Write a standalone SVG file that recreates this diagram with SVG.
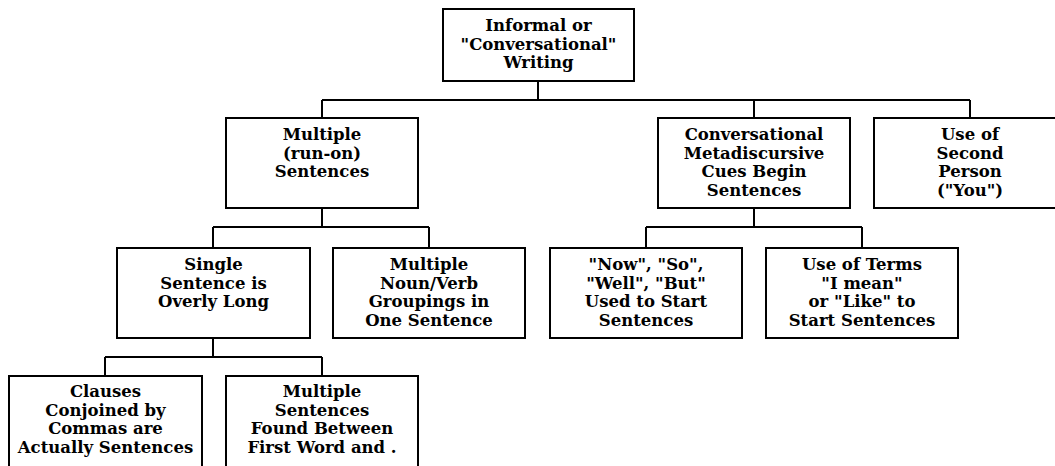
<svg xmlns="http://www.w3.org/2000/svg" width="1055" height="466" viewBox="0 0 1055 466">
  <style>
    .box { fill: #ffffff; stroke: #000000; stroke-width: 2; }
    .wire { fill: none; stroke: #000000; stroke-width: 2; }
    text { font-family: "DejaVu Serif", "Liberation Serif", serif; font-weight: bold; font-size: 16.5px; fill: #000000; text-anchor: middle; }
  </style>
  <rect width="1055" height="466" fill="#ffffff"/>

  <!-- connectors -->
  <g id="connectors" class="wire">
    <path d="M538 81 V100 M322 100 H970 M322 100 V118 M754 100 V118 M970 100 V118"/>
    <path d="M322 208 V227 M213 227 H429 M213 227 V248 M429 227 V248"/>
    <path d="M754 208 V227 M646 227 H862 M646 227 V248 M862 227 V248"/>
    <path d="M213 338 V357 M105 357 H322 M105 357 V376 M322 357 V376"/>
  </g>

  <g id="informal">
    <rect class="box" x="443" y="9" width="191" height="72"/>
    <text x="538.5"><tspan x="538.5" y="31">Informal or</tspan><tspan x="538.5" y="49.5">"Conversational"</tspan><tspan x="538.5" y="68">Writing</tspan></text>
  </g>

  <g id="multiple-runon">
    <rect class="box" x="226" y="118" width="192" height="90"/>
    <text><tspan x="322" y="140">Multiple</tspan><tspan x="322" y="158.5">(run-on)</tspan><tspan x="322" y="177">Sentences</tspan></text>
  </g>

  <g id="metadiscursive">
    <rect class="box" x="658" y="118" width="192" height="90"/>
    <text><tspan x="754" y="140">Conversational</tspan><tspan x="754" y="158.5">Metadiscursive</tspan><tspan x="754" y="177">Cues Begin</tspan><tspan x="754" y="195.5">Sentences</tspan></text>
  </g>

  <g id="second-person">
    <rect class="box" x="874" y="118" width="192" height="90"/>
    <text><tspan x="970" y="140">Use of</tspan><tspan x="970" y="158.5">Second</tspan><tspan x="970" y="177">Person</tspan><tspan x="970" y="195.5">("You")</tspan></text>
  </g>

  <g id="overly-long">
    <rect class="box" x="117" y="248" width="193" height="90"/>
    <text><tspan x="213.5" y="270">Single</tspan><tspan x="213.5" y="288.5">Sentence is</tspan><tspan x="213.5" y="307">Overly Long</tspan></text>
  </g>

  <g id="noun-verb">
    <rect class="box" x="333" y="248" width="192" height="90"/>
    <text><tspan x="429" y="270">Multiple</tspan><tspan x="429" y="288.5">Noun/Verb</tspan><tspan x="429" y="307">Groupings in</tspan><tspan x="429" y="325.5">One Sentence</tspan></text>
  </g>

  <g id="now-so-well-but">
    <rect class="box" x="550" y="248" width="192" height="90"/>
    <text><tspan x="646" y="270">"Now", "So",</tspan><tspan x="646" y="288.5">"Well", "But"</tspan><tspan x="646" y="307">Used to Start</tspan><tspan x="646" y="325.5">Sentences</tspan></text>
  </g>

  <g id="i-mean-like">
    <rect class="box" x="766" y="248" width="192" height="90"/>
    <text><tspan x="862" y="270">Use of Terms</tspan><tspan x="862" y="288.5">"I mean"</tspan><tspan x="862" y="307">or "Like" to</tspan><tspan x="862" y="325.5">Start Sentences</tspan></text>
  </g>

  <g id="comma-clauses">
    <rect class="box" x="9" y="376" width="193" height="91"/>
    <text><tspan x="105.5" y="397">Clauses</tspan><tspan x="105.5" y="415.5">Conjoined by</tspan><tspan x="105.5" y="434">Commas are</tspan><tspan x="105.5" y="452.5">Actually Sentences</tspan></text>
  </g>

  <g id="between-word-and-period">
    <rect class="box" x="226" y="376" width="192" height="91"/>
    <text><tspan x="322" y="397">Multiple</tspan><tspan x="322" y="415.5">Sentences</tspan><tspan x="322" y="434">Found Between</tspan><tspan x="322" y="452.5">First Word and .</tspan></text>
  </g>
</svg>
